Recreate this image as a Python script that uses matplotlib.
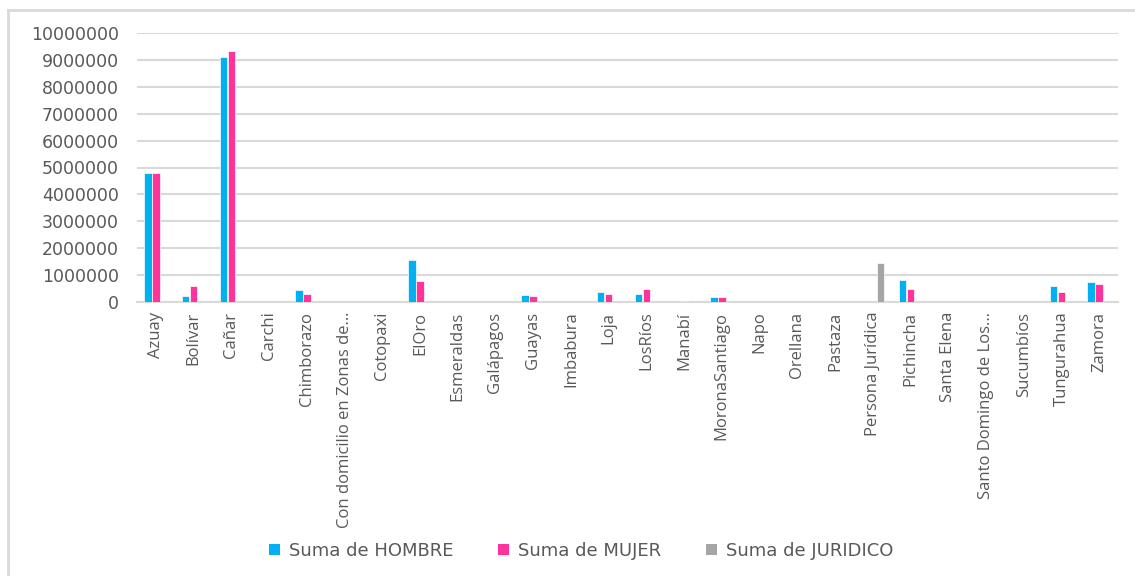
import numpy as np
import matplotlib.pyplot as plt
from matplotlib.patches import Patch
from matplotlib.lines import Line2D

# data
provincias = ["Azuay", "Bolívar", "Cañar", "Carchi", "Chimborazo",
              "Con domicilio en Zonas de…", "Cotopaxi", "ElOro", "Esmeraldas",
              "Galápagos", "Guayas", "Imbabura", "Loja", "LosRíos", "Manabí",
              "MoronaSantiago", "Napo", "Orellana", "Pastaza", "Persona Jurídica",
              "Pichincha", "Santa Elena", "Santo Domingo de Los…", "Sucumbíos",
              "Tungurahua", "Zamora"]
hombre = [4800000, 230000, 9100000, 0, 460000, 0, 0, 1570000, 0, 0,
          270000, 0, 380000, 310000, 0, 200000, 0, 0, 0, 0,
          800000, 0, 0, 0, 590000, 740000]
mujer = [4800000, 580000, 9340000, 0, 310000, 0, 0, 780000, 0, 0,
         240000, 0, 310000, 470000, 50000, 200000, 0, 0, 0, 0,
         470000, 0, 0, 0, 360000, 670000]
juridico = [0, 0, 0, 0, 0, 0, 0, 0, 0, 0,
            0, 0, 0, 0, 0, 0, 0, 0, 0, 1450000,
            0, 0, 0, 0, 0, 0]

series = ["Suma de HOMBRE", "Suma de MUJER", "Suma de JURIDICO"]
colors = ["#00B0F0", "#FF3399", "#A5A5A5"]
text_color = "#595959"
grid_color = "#D9D9D9"

fig = plt.figure(figsize=(11.35, 5.76), dpi=100)
ax = fig.add_axes([137 / 1135, 1 - 302 / 576, (1118 - 137) / 1135, (302 - 33) / 576])

# chart area border (left and top visible)
fig.add_artist(Line2D([8 / 1135, 8 / 1135], [0, 1 - 10 / 576], color=grid_color, lw=2))
fig.add_artist(Line2D([8 / 1135, 1], [1 - 10 / 576, 1 - 10 / 576], color=grid_color, lw=2))

x = np.arange(len(provincias))
w = 0.2
for i, (vals, c) in enumerate(zip([hombre, mujer, juridico], colors)):
    ax.bar(x + (i - 1) * 0.21, vals, width=w, color=c, edgecolor="white",
           linewidth=0.5, zorder=3)

ax.set_xlim(-0.5, len(provincias) - 0.5)
ax.set_ylim(0, 10000000)
ax.set_yticks(np.arange(0, 10000001, 1000000))
ax.set_yticklabels([str(v) for v in range(0, 10000001, 1000000)],
                   family="DejaVu Sans", fontsize=12.5, color=text_color)
ax.yaxis.grid(True, color=grid_color, lw=1.5, zorder=0)
ax.tick_params(axis="y", length=0, pad=13)

ax.set_xticks(x)
ax.set_xticklabels(provincias, rotation=90, family="Open Sans", fontsize=12,
                   color=text_color, va="top", ha="center")
ax.tick_params(axis="x", length=0, pad=7)

for s in ["top", "right", "left"]:
    ax.spines[s].set_visible(False)
ax.spines["bottom"].set_color(grid_color)
ax.spines["bottom"].set_linewidth(1.5)

handles = [Patch(facecolor=c, edgecolor="none") for c in colors]
fig.legend(handles, series, loc="center", bbox_to_anchor=(0.512, 1 - 551 / 576),
           ncol=3, frameon=False, handlelength=0.6, handleheight=0.6,
           handletextpad=0.5, columnspacing=2.5,
           prop={"family": "DejaVu Sans", "size": 13}, labelcolor=text_color)

fig.savefig("out.png", dpi=100)
